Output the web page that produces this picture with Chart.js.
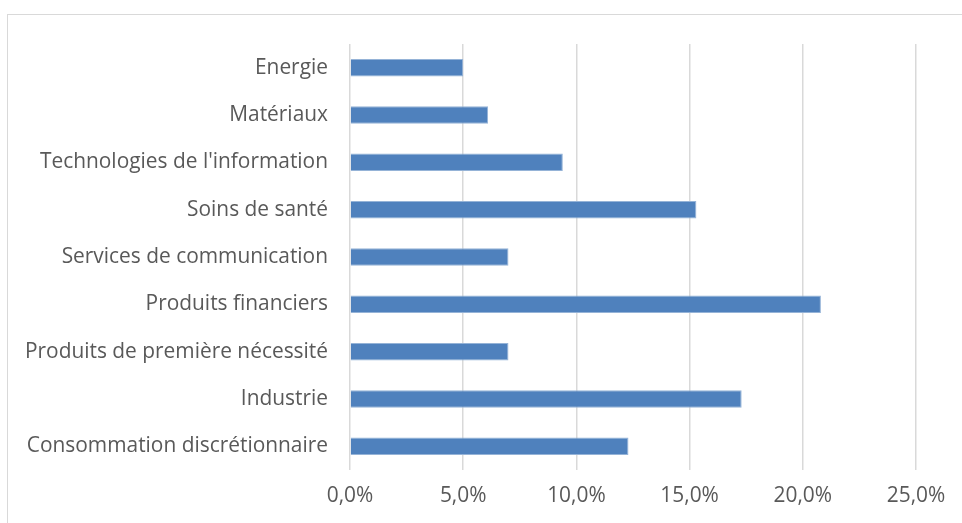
<!DOCTYPE html>
<html><head><meta charset="utf-8">
<script src="https://cdn.jsdelivr.net/npm/chart.js@4/dist/chart.umd.min.js"></script>
<style>
html,body{margin:0;padding:0;background:#fff;overflow:hidden}
#frame{position:absolute;left:7px;top:14px;width:1000px;height:600px;border:1px solid #d9d9d9;box-sizing:border-box}
#wrap{position:absolute;left:0;top:0;width:962px;height:523px}
</style>
</head><body>
<div id="frame"></div>
<div id="wrap"><canvas id="c" width="962" height="523"></canvas></div>
<script>
const categories = [
  "Energie",
  "Matériaux",
  "Technologies de l'information",
  "Soins de santé",
  "Services de communication",
  "Produits financiers",
  "Produits de première nécessité",
  "Industrie",
  "Consommation discrétionnaire"
];
const weights = [5.0, 6.1, 9.4, 15.3, 7.0, 20.8, 7.0, 17.3, 12.3];
const xTicks = [0, 5, 10, 15, 20, 25];

const FONT = {family: '"Open Sans", sans-serif', size: 20.9};
const TXT = '#595959';

new Chart(document.getElementById('c'), {
  type: 'bar',
  data: {
    labels: categories,
    datasets: [{
      data: weights,
      backgroundColor: '#4f81bd',
      borderColor: '#95b3d7',
      borderWidth: 1,
      categoryPercentage: 1,
      barPercentage: 0.37
    }]
  },
  options: {
    indexAxis: 'y',
    responsive: false,
    animation: false,
    layout: {padding: {left: 0, top: 44, right: 46, bottom: 0}},
    plugins: {legend: {display: false}, tooltip: {enabled: false}},
    scales: {
      x: {
        min: 0, max: 25,
        afterBuildTicks: s => { s.ticks = xTicks.map(v => ({value: v})); },
        afterFit: s => { s.height = 53; },
        grid: {color: '#d9d9d9', lineWidth: 1.5, drawTicks: false},
        border: {display: false},
        ticks: {
          color: TXT, font: FONT, padding: 14,
          callback: v => v.toFixed(1).replace('.', ',') + '%'
        }
      },
      y: {
        afterFit: s => { s.width = 350; },
        grid: {display: false, drawTicks: false},
        border: {display: false},
        ticks: {color: TXT, font: FONT, padding: 22}
      }
    }
  }
});
</script>
</body></html>
